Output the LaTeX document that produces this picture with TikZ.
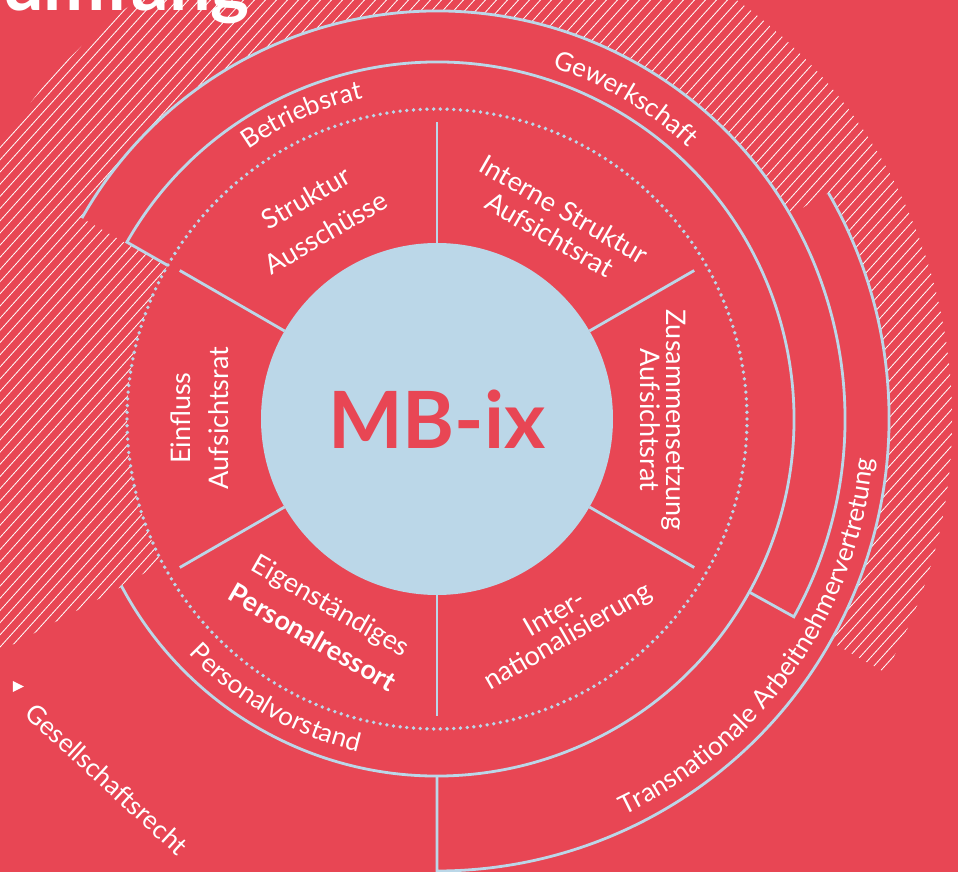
\documentclass[tikz,border=0pt]{standalone}
\usepackage{fontspec}
\setmainfont{Lato}
\usetikzlibrary{decorations.text}
\definecolor{mbred}{RGB}{232,70,84}
\definecolor{mbblue}{RGB}{187,215,232}
\newcommand\lblfont{\fontsize{27}{32}\selectfont}
\newcommand\arcfont{\fontsize{26}{30}\selectfont}

\begin{document}
\begin{tikzpicture}[x=1pt,y=1pt,
    ring/.style={mbblue,line width=2.8pt},
    hatch/.style={white,line width=0.8pt},
    seg/.style={text=white,font=\lblfont,align=center,inner sep=0pt},
    arclabel/.style={decorate,decoration={text along path,text align=center,
        text color=white,text={|\arcfont|#1}}}]
  \useasboundingbox (-437,-453) rectangle (521,419);
  \clip (-437,-453) rectangle (521,419);
  \fill[mbred] (-437,-453) rectangle (521,419);

  % hatching behind the outer rings
  \begin{scope}
    \clip (0,0) -- (-29.5:515) arc[start angle=-29.5,end angle=208,radius=515] -- cycle;
    \foreach \d in {-1100,-1089,...,1100}
      \draw[hatch] (\d-560,-620) -- (\d+560,620);
  \end{scope}

  \node[text=white,font=\fontsize{74}{80}\bfseries,anchor=base east,inner sep=0pt]
    (titel) at (-187,408) {Untersuchungsumfang};

  % ring areas
  \fill[mbred] (0,0) circle (310);
  \fill[mbred] (0,0) -- (150.3:357) arc[start angle=150.3,end angle=-152.2,radius=357] -- cycle;
  \fill[mbred] (0,0) -- (150.5:408) arc[start angle=150.5,end angle=-29,radius=408] -- cycle;
  \fill[mbred] (0,0) -- (30:452) arc[start angle=30,end angle=-90,radius=452] -- cycle;

  % core, segments and outlines
  \fill[mbblue] (0,0) circle (176);
  \foreach \a in {30,90,...,330}
    \draw[ring] (\a:176) -- (\a:297);
  \foreach \i in {0,...,289}
    \fill[mbblue] (\i*1.24138:310) circle (1.9);
  \draw[ring] (150.3:310) -- (150.3:357) arc[start angle=150.3,end angle=-152.2,radius=357];
  \draw[ring] (150.5:408) arc[start angle=150.5,end angle=-29,radius=408] -- (-29:357);
  \draw[ring] (30:452) arc[start angle=30,end angle=-90,radius=452] -- (-90:357);

  \node[text=mbred,font=\fontsize{79}{84}\bfseries,inner sep=0pt] (mbix) at (0,0) {MB-ix};

  \node[seg,rotate=30] (struktur) at (-121,204) {Struktur\\[8pt]Ausschüsse};
  \node[seg,rotate=-30] (interne) at (120,197) {Interne Struktur\\[-3pt]Aufsichtsrat};
  \node[seg,rotate=-90] (zusammen) at (226,-1) {Zusammensetzung\\[-6pt]Aufsichtsrat};
  \node[seg,rotate=30] (inter) at (125,-207) {Inter-\\[-6pt]nationalisierung};
  \node[seg,rotate=-30] (eigen) at (-115,-202) {Eigenständiges\\[5pt]\textbf{Personalressort}};
  \node[seg,rotate=90] (einfluss) at (-237,1) {Einfluss\\[6pt]Aufsichtsrat};

  % labels along the rings
  \path[arclabel=Betriebsrat] (144:329) arc[start angle=144,end angle=84,radius=329];
  \path[arclabel=Gewerkschaft] (95:370) arc[start angle=95,end angle=24,radius=370];
  \path[arclabel=Personalvorstand] (200:342) arc[start angle=200,end angle=280,radius=342];
  \path[arclabel=Transnationale Arbeitnehmervertretung] (-95:438) arc[start angle=-95,end angle=25,radius=438];

  \fill[white] (-424,-262) -- (-424,-273) -- (-413,-267.5) -- cycle;
  \node[text=white,font=\arcfont,rotate=-42.5] (gesell) at (-330,-360) {Gesellschaftsrecht};
\end{tikzpicture}
\end{document}
